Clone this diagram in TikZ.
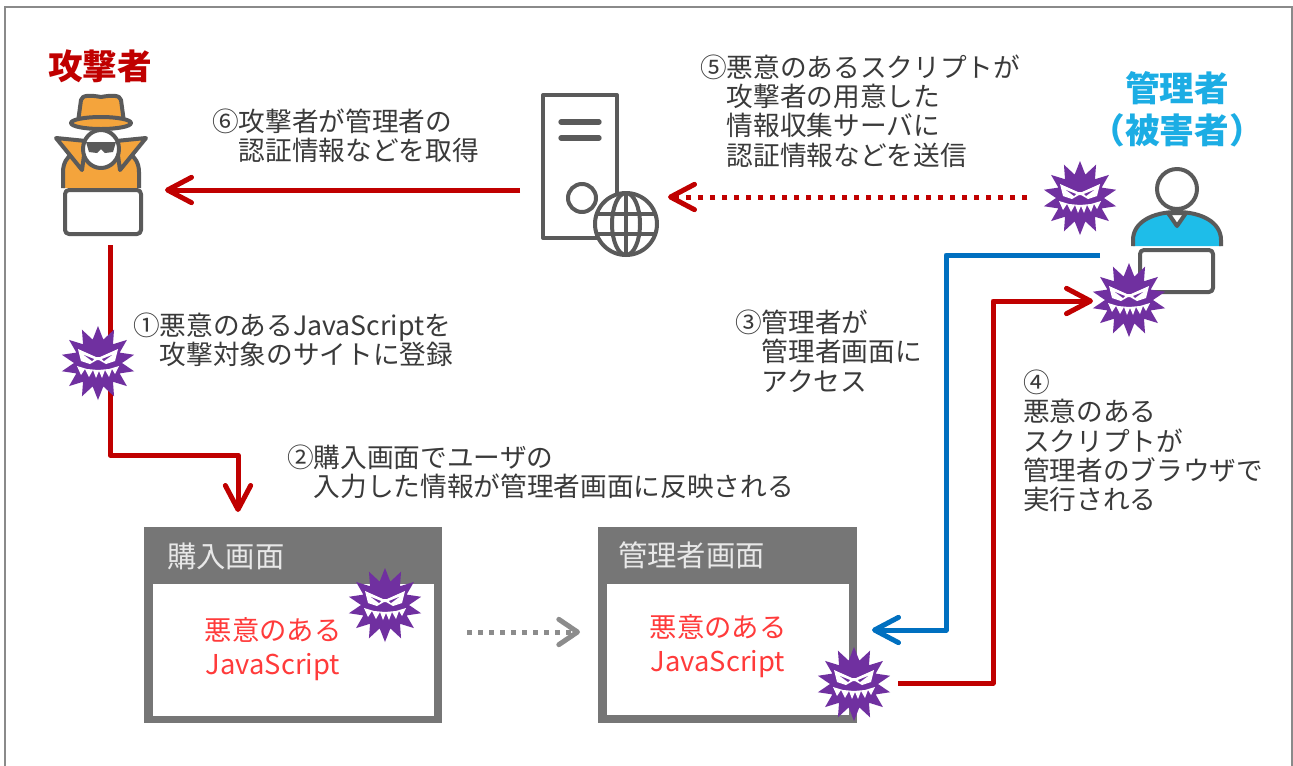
\documentclass[tikz,border=0pt]{standalone}
\usepackage{fontspec}
\setmainfont{Noto Sans CJK JP}
\usetikzlibrary{arrows.meta}

\definecolor{atkred}{HTML}{C00000}
\definecolor{admcyan}{HTML}{1CADE4}
\definecolor{flowblue}{HTML}{0070C0}
\definecolor{flowgray}{HTML}{8C8C8C}
\definecolor{framec}{HTML}{8A8A8A}
\definecolor{txtc}{HTML}{3A3A3A}
\definecolor{iconc}{HTML}{5A5A5A}
\definecolor{atkorange}{HTML}{F4A43C}
\definecolor{admblue}{HTML}{1EBDE9}
\definecolor{virusc}{HTML}{7030A0}
\definecolor{boxgray}{HTML}{767676}
\definecolor{boxtext}{HTML}{E8E8E8}
\definecolor{jsred}{HTML}{FF3B3B}

\tikzset{
  tipbarb/.style={-{Straight Barb[length=18pt,width=19pt,round]}},
  redflow/.style={draw=atkred, line width=3.75pt, line join=round, tipbarb},
  reddots/.style={draw=atkred, line width=3.75pt, dash pattern=on 3.75pt off 5.25pt, tipbarb},
  blueflow/.style={draw=flowblue, line width=3.75pt, line join=round, tipbarb},
  grayflow/.style={draw=flowgray, line width=3.75pt, dash pattern=on 3.75pt off 4.5pt,
    -{Straight Barb[length=14pt,width=19pt,round]}},
  icon/.style={draw=iconc, line width=3pt, line join=round},
  lbl/.style={anchor=west, align=left, inner sep=0pt, text=txtc,
    font=\fontsize{20}{22}\selectfont},
  ttl/.style={inner sep=0pt, align=center, font=\fontsize{26}{31.5}\selectfont\bfseries},
  screenbox/.style={fill=boxgray, inner sep=0pt},
  boxtitle/.style={anchor=west, inner sep=0pt, text=boxtext, font=\fontsize{22}{24}\selectfont},
  jstext/.style={inner sep=0pt, align=center, text=jsred, font=\fontsize{20.5}{25}\selectfont},
  virus/.pic={
    % spiky body
    \fill[virusc] (90:37) \foreach \i in {1,...,27}{ -- ({90+\i*360/28}:{24+13*(1-mod(\i,2))}) } -- cycle;
    % angry mask
    \fill[white] (-20,-14) -- (-2,-6) -- (2,-6) -- (20,-14) -- (17,-2) -- (8,1) -- (1,-3) -- (-1,-3) -- (-8,1) -- (-17,-2) -- cycle;
    \fill[virusc] (-14,-8) -- (-4,-4) -- (-6,-2) -- cycle;
    \fill[virusc] (14,-8) -- (4,-4) -- (6,-2) -- cycle;
    % grin
    \fill[white] (-21,3) -- (-17,12) -- (-13,6) -- (-9,14) -- (-5,7) -- (-2,15) -- (1,8) -- (4,15) -- (7,7) -- (11,14) -- (14,6) -- (17,11) -- (21,3) -- (11,6) -- (0,7) -- (-11,6) -- cycle;
  }
}

\begin{document}
\begin{tikzpicture}[x=0.75pt,y=-0.75pt]
\useasboundingbox (0,0) rectangle (1293,765);
\fill[white] (0,0) rectangle (1293,765);

% outer frame
\draw[framec, line width=1.5pt] (5,767) -- (5,7) -- (1292,7) -- (1292,767);

% ---- screens ----
\node[screenbox, minimum width=223.5pt, minimum height=147pt] (buy) at (293,625) {};
\fill[white] (153,584) rectangle (434,716);
\node[boxtitle] (buyttl) at (167,556) {購入画面};
\node[jstext] (buyjs) at (273,649) {悪意のある\\JavaScript};

\node[screenbox, minimum width=194.25pt, minimum height=147pt] (adm) at (727.5,625) {};
\fill[white] (607,584) rectangle (849,715);
\node[boxtitle] (admttl) at (618,555) {管理者画面};
\node[jstext] (admjs) at (718,646) {悪意のある\\JavaScript};

% ---- connector end points ----
\coordinate (g1) at (467,632);
\coordinate (g2) at (580,632);
\coordinate (a6s) at (520,190);
\coordinate (a6e) at (165,190);
\coordinate (a5s) at (1027,197);
\coordinate (a5e) at (668,197);
\coordinate (l1s) at (110,245);
\coordinate (l1e) at (238,512);
\coordinate (b3s) at (1100,255);
\coordinate (b3k) at (946,630);
\coordinate (b3e) at (872,630);
\coordinate (r4s) at (898,683);
\coordinate (r4k) at (993,301);
\coordinate (r4e) at (1093,301);

% ---- connectors ----
\draw[grayflow] (g1) -- (g2);
\draw[redflow] (a6s) -- (a6e);
\draw[reddots] (a5s) -- (a5e);
\draw[redflow] (l1s) -- ++(0,210) -| (l1e);
\draw[blueflow] (b3s) -| (b3k) -- (b3e);
\draw[redflow] (r4s) -| (r4k) -- (r4e);

% ---- attacker ----
\filldraw[icon, fill=atkorange] (63,188) -- (63,172) .. controls (63,155) and (78,146) .. (101,146) .. controls (124,146) and (139,155) .. (139,172) -- (139,188);
\filldraw[icon, fill=atkorange] (56,138) -- (86,141) -- (82,170) -- cycle;
\filldraw[icon, fill=atkorange] (146,138) -- (116,141) -- (120,170) -- cycle;
\filldraw[icon, fill=white] (101,149) ellipse (18 and 19);
\fill[iconc] (86,142) -- (116,142) -- (113,152) -- (105,153) -- (101,149) -- (97,153) -- (89,152) -- cycle;
\filldraw[icon, fill=atkorange] (78,122) -- (81,100) .. controls (82,95) and (90,95) .. (101,97) .. controls (112,95) and (120,95) .. (121,100) -- (124,122) -- cycle;
\filldraw[icon, fill=atkorange] (101,123) ellipse (30 and 6);
\filldraw[icon, fill=white, rounded corners=3pt] (65,190) rectangle (141,234);
\node[ttl, text=atkred] (atkttl) at (100,66) {攻撃者};

% ---- collection server ----
\draw[icon] (543,95) rectangle (617,238);
\draw[iconc, line width=4pt, line cap=round] (561,122) -- (599,122) (561,138) -- (599,138);
\draw[icon] (582,198) circle (14);
\filldraw[icon, fill=white] (626,224) circle (31);
\draw[icon] (626,193) -- (626,255);
\draw[icon] (626,224) ellipse (14 and 31);
\draw[icon] (597,214) -- (655,214) (597,234) -- (655,234);

% ---- administrator ----
\filldraw[icon, fill=admblue] (1133,246) -- (1133,240) .. controls (1133,222) and (1153,212) .. (1177,212) .. controls (1201,212) and (1221,222) .. (1221,240) -- (1221,246);
\filldraw[icon, fill=white] (1168,213) -- (1177,226) -- (1186,213) -- cycle;
\filldraw[icon, fill=white] (1177,189) circle (20);
\filldraw[icon, fill=white, rounded corners=3pt] (1140,250) rectangle (1213,292);
\node[ttl, text=admcyan] (admttl2) at (1177,109) {管理者\\（被害者）};

% ---- malicious scripts ----
\pic at (98,363) {virus};
\pic at (385,605) {virus};
\pic at (854,684) {virus};
\pic at (1080,198) {virus};
\pic at (1129,300) {virus};

% ---- step labels ----
\node[lbl] (t6) at (212,136) {⑥攻撃者が管理者の\\　認証情報などを取得};
\node[lbl] (t5) at (700,111) {⑤悪意のあるスクリプトが\\　攻撃者の用意した\\　情報収集サーバに\\　認証情報などを送信};
\node[lbl] (t1) at (133,340) {①悪意のあるJavaScriptを\\　攻撃対象のサイトに登録};
\node[lbl] (t2) at (287,472) {②購入画面でユーザの\\　入力した情報が管理者画面に反映される};
\node[lbl] (t3) at (735,351) {③管理者が\\　管理者画面に\\　アクセス};
\node[lbl] (t4) at (1023,441) {④\\悪意のある\\スクリプトが\\管理者のブラウザで\\実行される};
\end{tikzpicture}
\end{document}
